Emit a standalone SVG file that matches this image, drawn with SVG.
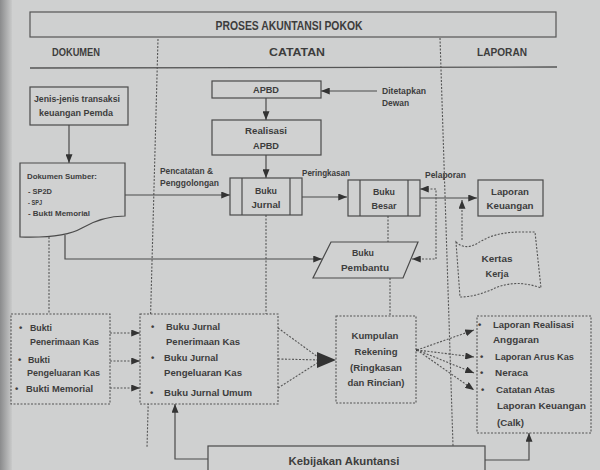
<svg xmlns="http://www.w3.org/2000/svg" width="600" height="470" viewBox="0 0 600 470">
<defs>
<linearGradient id="edge" x1="0" y1="0" x2="1" y2="0">
<stop offset="0" stop-color="#8a8b8c"/><stop offset="1" stop-color="#c9caca"/>
</linearGradient>
<marker id="ah" viewBox="0 0 10 8" refX="10" refY="4" markerWidth="9" markerHeight="7" markerUnits="userSpaceOnUse" orient="auto-start-reverse">
<path d="M0,0 L10,4 L0,8 Z" fill="#333"/>
</marker>
<style>
.t{font-family:"Liberation Sans",Arial,sans-serif;font-weight:bold;fill:#3d3d3d;font-size:9.5px}
.c{text-anchor:middle}
.h{font-size:11px}
.ttl{font-size:13.5px}
.s{font-size:8.5px}
.xs{font-size:8px}
.box{fill:#d0d1d1;stroke:#4a4a4a;stroke-width:1.2}
.dbox{fill:#d0d1d1;stroke:#555;stroke-width:1.1;stroke-dasharray:2 1.5}
.ln{fill:none;stroke:#4a4a4a;stroke-width:1.2}
.dl{fill:none;stroke:#555;stroke-width:1.1;stroke-dasharray:2 1.5}
.arr{marker-end:url(#ah)}
</style>
</defs>
<rect width="600" height="470" fill="#cfd0d0"/>
<rect width="12" height="470" fill="url(#edge)"/>

<g id="frame">
<rect x="30" y="12" width="526" height="25" fill="none" stroke="#555" stroke-width="1.2"/>
<text class="t ttl c" x="289" y="30" textLength="147" lengthAdjust="spacingAndGlyphs">PROSES AKUNTANSI POKOK</text>
<text class="t h c" x="76" y="56" textLength="48" lengthAdjust="spacingAndGlyphs">DOKUMEN</text>
<text class="t h c" x="297" y="56" textLength="56" lengthAdjust="spacingAndGlyphs">CATATAN</text>
<text class="t h c" x="502" y="56" textLength="50" lengthAdjust="spacingAndGlyphs">LAPORAN</text>
<line x1="30" y1="68" x2="557" y2="67" stroke="#555" stroke-width="1.3"/>
<line class="dl" x1="158" y1="39" x2="147" y2="448"/>
<line class="dl" x1="440" y1="38" x2="453" y2="446"/>
</g>

<g id="connectors">
<path class="ln arr" d="M69,125 V163"/>
<path class="ln arr" d="M266,98 V120"/>
<path class="ln arr" d="M266,155 V178"/>
<path class="ln arr" d="M377,91 H321"/>
<path class="ln arr" d="M125,195 H230"/>
<path class="ln arr" d="M302,197 H347"/>
<path class="ln arr" d="M420,198 H477"/>
<path class="dl arr" d="M462,240 V200"/>
<path class="ln arr" d="M65,235 V259 H322"/>
<path class="dl" d="M420,189 H436 V259 H412" marker-start="url(#ah)" marker-end="url(#ah)"/>
<path class="dl" d="M266,215 V314"/>
<path class="dl" d="M388,216 V242"/>
<path class="dl" d="M390,278 V316"/>
<path class="dl" d="M49,237 V314"/>
<path class="dl arr" d="M110,333 H140"/>
<path class="dl arr" d="M110,361 H140"/>
<path class="dl arr" d="M110,388 H140"/>
<path class="dl" d="M278,328 L322,360 M278,359 L322,360 M278,388 L322,360"/>
<polygon points="317,352 336,360 317,368" fill="#333"/>
<circle cx="417" cy="350" r="1.3" fill="#333"/>
<path class="dl arr" d="M417,350 L474,330"/>
<path class="dl arr" d="M417,350 L474,357"/>
<path class="dl arr" d="M417,350 L474,373"/>
<path class="dl arr" d="M417,350 L474,390"/>
<path class="ln arr" d="M208,459 H175 V404"/>
<path class="ln arr" d="M485,460 H529 V433"/>
</g>

<g id="jenis">
<rect class="box" x="30" y="87" width="98" height="38"/>
<text class="t c" x="77" y="102" textLength="86" lengthAdjust="spacingAndGlyphs">Jenis-jenis transaksi</text>
<text class="t c" x="76" y="116" textLength="74" lengthAdjust="spacingAndGlyphs">keuangan Pemda</text>
</g>

<g id="dokumen-sumber">
<path class="box" d="M20,163 H125 V216 C108,216 94,221 82,228 C70,235 50,238 20,237 Z"/>
<text class="t xs" x="27" y="179" textLength="70" lengthAdjust="spacingAndGlyphs">Dokumen Sumber:</text>
<text class="t xs" x="28" y="194" textLength="24" lengthAdjust="spacingAndGlyphs">- SP2D</text>
<text class="t xs" x="28" y="205" textLength="14" lengthAdjust="spacingAndGlyphs">- SPJ</text>
<text class="t xs" x="28" y="216" textLength="62" lengthAdjust="spacingAndGlyphs">- Bukti Memorial</text>
</g>

<g id="label-pencatatan">
<text class="t s" x="160" y="174" textLength="53" lengthAdjust="spacingAndGlyphs">Pencatatan &amp;</text>
<text class="t s" x="160" y="186" textLength="59" lengthAdjust="spacingAndGlyphs">Penggolongan</text>
</g>

<g id="apbd">
<rect class="box" x="212" y="81" width="109" height="17"/>
<text class="t c" x="266" y="93" textLength="26" lengthAdjust="spacingAndGlyphs">APBD</text>
</g>

<g id="ditetapkan">
<text class="t s" x="382" y="94" textLength="44" lengthAdjust="spacingAndGlyphs">Ditetapkan</text>
<text class="t s" x="382" y="106" textLength="27" lengthAdjust="spacingAndGlyphs">Dewan</text>
</g>

<g id="realisasi">
<rect class="box" x="212" y="120" width="109" height="35"/>
<text class="t c" x="266" y="134" textLength="42" lengthAdjust="spacingAndGlyphs">Realisasi</text>
<text class="t c" x="266" y="149" textLength="26" lengthAdjust="spacingAndGlyphs">APBD</text>
</g>

<g id="buku-jurnal">
<rect class="box" x="230" y="178" width="72" height="37"/>
<line class="ln" x1="242" y1="178" x2="242" y2="215"/>
<line class="ln" x1="290" y1="178" x2="290" y2="215"/>
<text class="t c" x="266" y="194" textLength="22" lengthAdjust="spacingAndGlyphs">Buku</text>
<text class="t c" x="266" y="208" textLength="29" lengthAdjust="spacingAndGlyphs">Jurnal</text>
</g>

<g id="label-peringkasan">
<text class="t s" x="302" y="176" textLength="48" lengthAdjust="spacingAndGlyphs">Peringkasan</text>
</g>

<g id="buku-besar">
<rect class="box" x="348" y="180" width="72" height="36"/>
<line class="ln" x1="360" y1="180" x2="360" y2="216"/>
<line class="ln" x1="408" y1="180" x2="408" y2="216"/>
<text class="t c" x="384" y="195" textLength="22" lengthAdjust="spacingAndGlyphs">Buku</text>
<text class="t c" x="384" y="209" textLength="25" lengthAdjust="spacingAndGlyphs">Besar</text>
</g>

<g id="label-pelaporan">
<text class="t s" x="425" y="178" textLength="41" lengthAdjust="spacingAndGlyphs">Pelaporan</text>
</g>

<g id="laporan-keuangan">
<rect class="box" x="478" y="180" width="65" height="36"/>
<text class="t c" x="510" y="195" textLength="38" lengthAdjust="spacingAndGlyphs">Laporan</text>
<text class="t c" x="510" y="209" textLength="47" lengthAdjust="spacingAndGlyphs">Keuangan</text>
</g>

<g id="buku-pembantu">
<polygon class="box" points="331,242 418,242 403,278 313,278"/>
<text class="t c" x="363" y="256" textLength="22" lengthAdjust="spacingAndGlyphs">Buku</text>
<text class="t c" x="365" y="271" textLength="48" lengthAdjust="spacingAndGlyphs">Pembantu</text>
</g>

<g id="kertas-kerja">
<path class="dbox" d="M456,242 C462,248 470,248 478,243 C490,235 505,232 520,232 L535,232 L541,288 C525,282 510,282 495,288 C485,293 472,297 460,297 Z"/>
<text class="t c" x="497" y="262" textLength="31" lengthAdjust="spacingAndGlyphs">Kertas</text>
<text class="t c" x="497" y="277" textLength="23" lengthAdjust="spacingAndGlyphs">Kerja</text>
</g>

<g id="bukti">
<rect class="dbox" x="11" y="314" width="99" height="90"/>
<text class="t" x="19" y="331">•</text>
<text class="t" x="30" y="331" textLength="22" lengthAdjust="spacingAndGlyphs">Bukti</text>
<text class="t" x="30" y="345" textLength="69" lengthAdjust="spacingAndGlyphs">Penerimaan Kas</text>
<text class="t" x="18" y="363">•</text>
<text class="t" x="28" y="363" textLength="22" lengthAdjust="spacingAndGlyphs">Bukti</text>
<text class="t" x="27" y="376" textLength="73" lengthAdjust="spacingAndGlyphs">Pengeluaran Kas</text>
<text class="t" x="15" y="392">•</text>
<text class="t" x="26" y="392" textLength="67" lengthAdjust="spacingAndGlyphs">Bukti Memorial</text>
</g>

<g id="jurnal-list">
<rect class="dbox" x="140" y="314" width="138" height="90"/>
<text class="t" x="151" y="330">•</text>
<text class="t" x="166" y="330" textLength="54" lengthAdjust="spacingAndGlyphs">Buku Jurnal</text>
<text class="t" x="166" y="345" textLength="74" lengthAdjust="spacingAndGlyphs">Penerimaan Kas</text>
<text class="t" x="151" y="361">•</text>
<text class="t" x="164" y="361" textLength="54" lengthAdjust="spacingAndGlyphs">Buku Jurnal</text>
<text class="t" x="164" y="376" textLength="78" lengthAdjust="spacingAndGlyphs">Pengeluaran Kas</text>
<text class="t" x="150" y="396">•</text>
<text class="t" x="164" y="396" textLength="88" lengthAdjust="spacingAndGlyphs">Buku Jurnal Umum</text>
</g>

<g id="kumpulan">
<rect class="dbox" x="336" y="316" width="80" height="87"/>
<text class="t c" x="375" y="339" textLength="47" lengthAdjust="spacingAndGlyphs">Kumpulan</text>
<text class="t c" x="376" y="355" textLength="43" lengthAdjust="spacingAndGlyphs">Rekening</text>
<text class="t c" x="376" y="371" textLength="52" lengthAdjust="spacingAndGlyphs">(Ringkasan</text>
<text class="t c" x="376" y="386" textLength="57" lengthAdjust="spacingAndGlyphs">dan Rincian)</text>
</g>

<g id="laporan-list">
<rect class="dbox" x="477" y="316" width="114" height="117"/>
<text class="t" x="478" y="328">•</text>
<text class="t" x="493" y="328" textLength="81" lengthAdjust="spacingAndGlyphs">Laporan Realisasi</text>
<text class="t" x="493" y="343" textLength="46" lengthAdjust="spacingAndGlyphs">Anggaran</text>
<text class="t" x="480" y="360">•</text>
<text class="t" x="495" y="360" textLength="79" lengthAdjust="spacingAndGlyphs">Laporan Arus Kas</text>
<text class="t" x="480" y="376">•</text>
<text class="t" x="495" y="376" textLength="33" lengthAdjust="spacingAndGlyphs">Neraca</text>
<text class="t" x="481" y="393">•</text>
<text class="t" x="496" y="393" textLength="59" lengthAdjust="spacingAndGlyphs">Catatan Atas</text>
<text class="t" x="497" y="409" textLength="89" lengthAdjust="spacingAndGlyphs">Laporan Keuangan</text>
<text class="t" x="497" y="426" textLength="27" lengthAdjust="spacingAndGlyphs">(Calk)</text>
</g>

<g id="kebijakan">
<rect class="box" x="208" y="446" width="277" height="40"/>
<text class="t h c" x="344" y="465" textLength="111" lengthAdjust="spacingAndGlyphs">Kebijakan Akuntansi</text>
</g>
</svg>
